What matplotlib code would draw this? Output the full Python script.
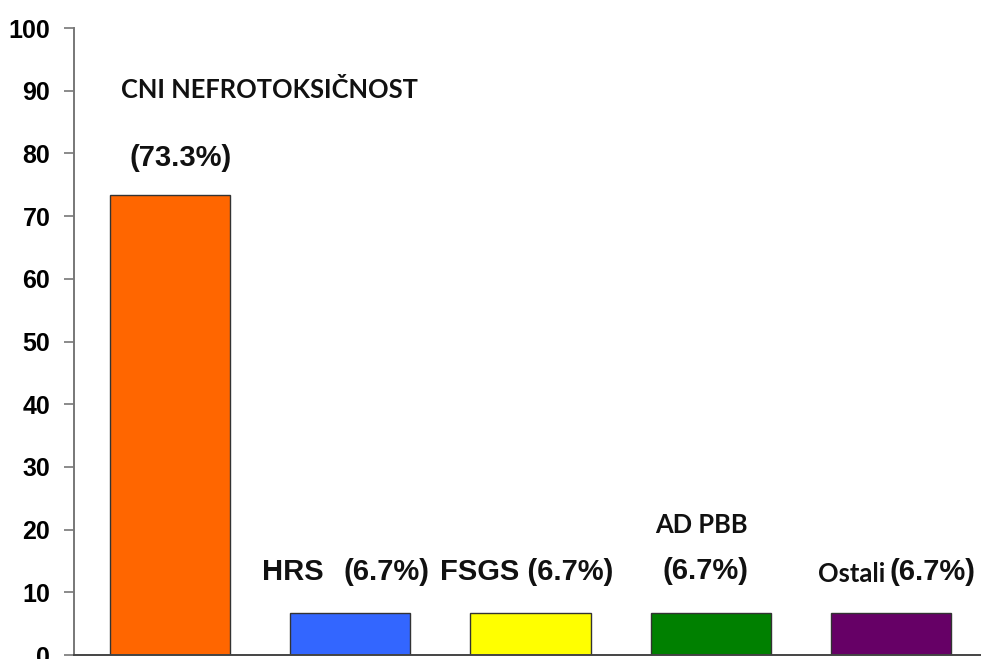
import numpy as np
import matplotlib.pyplot as plt

# data
categories = ['CNI NEFROTOKSIČNOST', 'HRS', 'FSGS', 'AD PBB', 'Ostali']
values = [73.3, 6.7, 6.7, 6.7, 6.7]
colors = ['#ff6600', '#3366ff', '#ffff00', '#008000', '#660066']
pct_labels = ['(73.3%)', '(6.7%)', '(6.7%)', '(6.7%)', '(6.7%)']

ARIAL = 'Liberation Sans'
CALIBRI = 'Lato'

fig = plt.figure(figsize=(9.81, 6.59), dpi=100)
ax = fig.add_axes([0.0754, 0.006, 0.9246, 0.9515])

x = np.arange(len(categories))
ax.bar(x, values, width=0.667, color=colors, edgecolor='#333333', linewidth=1.0)

ax.set_xlim(-0.533, 4.5)
ax.set_ylim(0, 100)
ax.set_yticks(np.arange(0, 101, 10))
ax.set_xticks([])
ax.tick_params(axis='y', direction='out', length=7, width=1.2, color='#777777', pad=10)
for lab in ax.get_yticklabels():
    lab.set_fontfamily(ARIAL)
    lab.set_fontweight('bold')
    lab.set_fontsize(18)
for side in ['top', 'right']:
    ax.spines[side].set_visible(False)
ax.spines['left'].set_color('#777777')
ax.spines['left'].set_linewidth(1.4)
ax.spines['bottom'].set_color('#444444')
ax.spines['bottom'].set_linewidth(1.4)

# annotations, as placed on the original slide
bold = dict(fontweight='bold', color='#111111', va='center')
name_size = 18.4
pct_size = 21

# first bar: name above, percent below
ax.text(x[0] + 0.55, 90.1, categories[0], family=CALIBRI, fontsize=name_size,
        ha='center', **bold)
ax.text(x[0] + 0.06, 79.3, pct_labels[0], family=ARIAL, fontsize=pct_size,
        ha='center', **bold)
# HRS: name and percent on one line with a wider gap
ax.text(x[1] - 0.49, 13.2, categories[1], family=ARIAL, fontsize=pct_size,
        ha='left', **bold)
ax.text(x[1] - 0.04, 13.2, pct_labels[1], family=ARIAL, fontsize=pct_size,
        ha='left', **bold)
# FSGS
ax.text(x[2] - 0.50, 13.2, categories[2] + ' ' + pct_labels[2], family=ARIAL,
        fontsize=pct_size, ha='left', **bold)
# AD PBB: two lines
ax.text(x[3] - 0.05, 20.7, categories[3], family=CALIBRI, fontsize=name_size,
        ha='center', **bold)
ax.text(x[3] - 0.026, 13.4, pct_labels[3], family=ARIAL, fontsize=pct_size,
        ha='center', **bold)
# Ostali
ax.text(x[4] - 0.032, 13.0, categories[4], family=CALIBRI, fontsize=name_size,
        ha='right', **bold)
ax.text(x[4] - 0.005, 13.2, pct_labels[4], family=ARIAL, fontsize=pct_size,
        ha='left', **bold)

fig.savefig('out.png', dpi=100)
